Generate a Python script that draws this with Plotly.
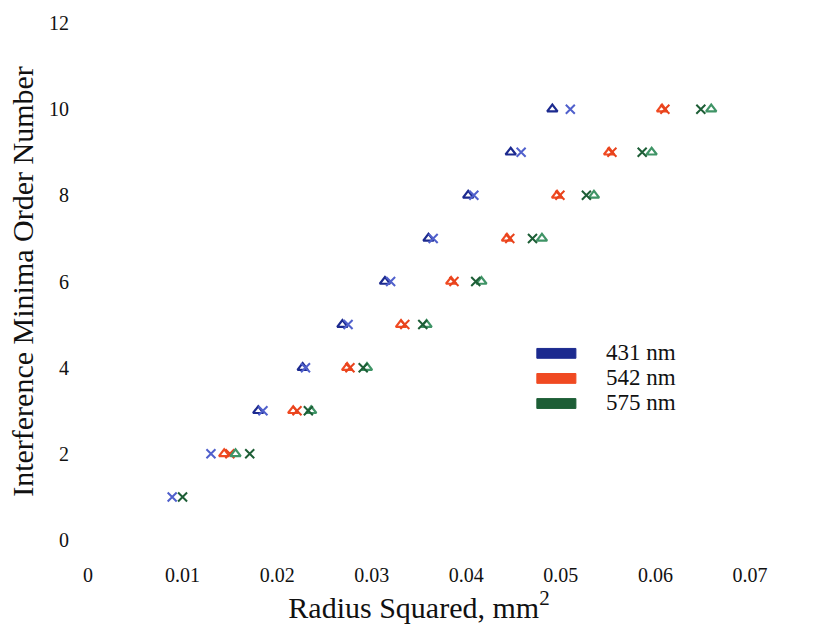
import plotly.graph_objects as go

wavelengths = ["431 nm", "542 nm", "575 nm"]
legend_colors = ["#1c2a8f", "#f04a22", "#1d5e36"]
tri_colors = ["#1c2a8f", "#f04a22", "#3f9466"]
x_colors = ["#5060cc", "#e8431c", "#1d5e36"]

# Open-triangle series (order numbers and radius squared, mm^2)
order_tri_431 = [3, 4, 5, 6, 7, 8, 9, 10]
r2_tri_431 = [0.0180, 0.0227, 0.0269, 0.0314, 0.0360, 0.0402, 0.0447, 0.0491]
order_tri_542 = [2, 3, 4, 5, 6, 7, 8, 9, 10]
r2_tri_542 = [0.0144, 0.0217, 0.0274, 0.0331, 0.0384, 0.0443, 0.0496, 0.0551, 0.0607]
order_tri_575 = [2, 3, 4, 5, 6, 7, 8, 9, 10]
r2_tri_575 = [0.0156, 0.0236, 0.0295, 0.0358, 0.0416, 0.0480, 0.0535, 0.0596, 0.0659]

# Cross series
order_x_431 = [1, 2, 3, 4, 5, 6, 7, 8, 9, 10]
r2_x_431 = [0.0089, 0.0130, 0.0185, 0.0230, 0.0275, 0.0320, 0.0365, 0.0408, 0.0458, 0.0510]
order_x_542 = [2, 3, 4, 5, 6, 7, 8, 9, 10]
r2_x_542 = [0.0150, 0.0221, 0.0277, 0.0335, 0.0387, 0.0446, 0.0499, 0.0554, 0.0610]
order_x_575 = [1, 2, 3, 4, 5, 6, 7, 8, 9, 10]
r2_x_575 = [0.0100, 0.0171, 0.0233, 0.0291, 0.0354, 0.0410, 0.0470, 0.0527, 0.0586, 0.0648]

x_ticks = [0, 0.01, 0.02, 0.03, 0.04, 0.05, 0.06, 0.07]
x_tick_labels = ["0", "0.01", "0.02", "0.03", "0.04", "0.05", "0.06", "0.07"]
y_ticks = [0, 2, 4, 6, 8, 10, 12]

tri = [(r2_tri_431, order_tri_431), (r2_tri_542, order_tri_542), (r2_tri_575, order_tri_575)]
crs = [(r2_x_431, order_x_431), (r2_x_542, order_x_542), (r2_x_575, order_x_575)]

FONT = "Liberation Serif"
fig = go.Figure()
for i, name in enumerate(wavelengths):
    fig.add_trace(go.Scatter(x=tri[i][0], y=tri[i][1], mode="markers", showlegend=False,
                             name=name + " (\u25b3)",
                             marker=dict(symbol="triangle-up-open", size=9, color=tri_colors[i],
                                         line=dict(width=2.2, color=tri_colors[i]))))
    fig.add_trace(go.Scatter(x=crs[i][0], y=crs[i][1], mode="markers", showlegend=False,
                             name=name + " (\u00d7)",
                             marker=dict(symbol="x-thin-open", size=9, color=x_colors[i],
                                         line=dict(width=2, color=x_colors[i]))))

# Legend drawn as colour bars plus labels (paper coordinates)
leg_x0, leg_x1, leg_tx = 0.678, 0.737, 0.78
leg_top, leg_step, bar_h = 0.361, 0.0485, 0.019
for i, name in enumerate(wavelengths):
    yc = leg_top - i * leg_step
    fig.add_shape(type="rect", xref="paper", yref="paper",
                  x0=leg_x0, x1=leg_x1, y0=yc - bar_h / 2, y1=yc + bar_h / 2,
                  fillcolor=legend_colors[i], line=dict(color=legend_colors[i], width=1))
    fig.add_annotation(xref="paper", yref="paper", x=leg_tx, y=yc + 0.002, text=name,
                       showarrow=False, xanchor="left", yanchor="middle",
                       font=dict(family=FONT, size=23, color="#111111"))

fig.update_layout(
    width=825, height=631,
    margin=dict(l=88, r=75, t=20, b=91),
    paper_bgcolor="white", plot_bgcolor="white",
    font=dict(family=FONT, color="#111111"),
    showlegend=False,
    xaxis=dict(range=[0, 0.07], tickvals=x_ticks, ticktext=x_tick_labels,
               showgrid=False, zeroline=False, showline=False,
               ticks="outside", ticklen=17, tickcolor="rgba(0,0,0,0)",
               tickfont=dict(family=FONT, size=20),
               title=dict(text="Radius Squared, mm<sup>2</sup>", font=dict(family=FONT, size=30),
                          standoff=6)),
    yaxis=dict(range=[0, 12], tickvals=y_ticks,
               showgrid=False, zeroline=False, showline=False,
               ticks="outside", ticklen=14, tickcolor="rgba(0,0,0,0)",
               tickfont=dict(family=FONT, size=20),
               title=dict(text="Interference Minima Order Number", font=dict(family=FONT, size=30),
                          standoff=6)),
)
fig.write_html("out.html")
